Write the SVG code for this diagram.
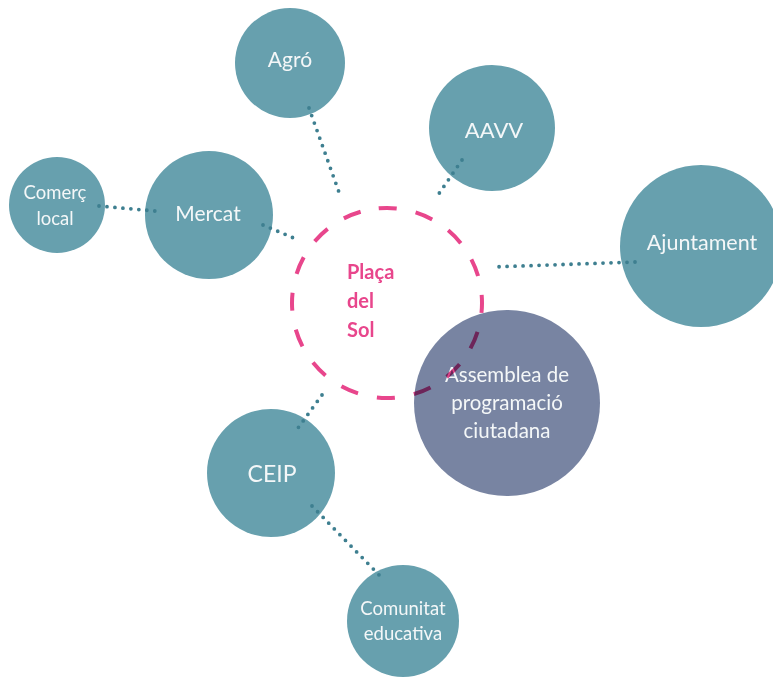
<svg xmlns="http://www.w3.org/2000/svg" width="773" height="678" viewBox="0 0 773 678">
<style>
.n{fill:#67a0ae}
.a{fill:#7884a2}
.t{fill:#f4f7f8;font-family:Lato,"Open Sans",sans-serif;text-anchor:middle}
.c{fill:none;stroke:#3e7f90;stroke-width:3.8;stroke-linecap:round;stroke-dasharray:0 8}
.p{fill:none;stroke:#e8468c;stroke-width:4;stroke-dasharray:18 19.3;mix-blend-mode:multiply}
.pt{fill:#e8468c;font-family:Lato,"Open Sans",sans-serif;font-weight:bold;font-size:20px}
</style>
<rect width="773" height="678" fill="#fff"/>
<g id="agro"><circle class="n" cx="290" cy="63" r="55"/><text class="t" x="290" y="67" font-size="21">Agró</text></g>
<g id="aavv"><circle class="n" cx="492" cy="128" r="63"/><text class="t" x="494" y="138" font-size="22">AAVV</text></g>
<g id="comerc"><circle class="n" cx="57" cy="205" r="48"/><text class="t" x="55" y="199" font-size="18.5">Comerç</text><text class="t" x="55" y="225" font-size="18.5">local</text></g>
<g id="mercat"><circle class="n" cx="209" cy="215" r="64"/><text class="t" x="208" y="221" font-size="21">Mercat</text></g>
<g id="ajuntament"><circle class="n" cx="701" cy="246" r="81"/><text class="t" x="702" y="250" font-size="21.5">Ajuntament</text></g>
<g id="ceip"><circle class="n" cx="271" cy="473" r="64"/><text class="t" x="272" y="482" font-size="23">CEIP</text></g>
<g id="comunitat"><circle class="n" cx="403" cy="621" r="56"/><text class="t" x="403" y="615" font-size="18.5">Comunitat</text><text class="t" x="403" y="640" font-size="18.5">educativa</text></g>
<g id="connectors">
<line class="c" x1="99" y1="206" x2="155" y2="211"/>
<line class="c" x1="309" y1="108" x2="340" y2="195"/>
<line class="c" x1="263" y1="225" x2="296" y2="239"/>
<line class="c" x1="462" y1="160" x2="438" y2="195"/>
<line class="c" x1="635" y1="262" x2="492" y2="267"/>
<line class="c" x1="322" y1="395" x2="298" y2="428"/>
<line class="c" x1="312" y1="506" x2="383" y2="579"/>
</g>
<g id="assemblea"><circle class="a" cx="507" cy="403" r="93"/><text class="t" x="507" y="382" font-size="20.5">Assemblea de</text><text class="t" x="507" y="410" font-size="20.5">programació</text><text class="t" x="507" y="438" font-size="20.5">ciutadana</text></g>
<g id="placa"><circle class="p" cx="387" cy="303" r="95" transform="rotate(-95 387 303)"/><text class="pt" x="347" y="279">Plaça</text><text class="pt" x="347" y="308">del</text><text class="pt" x="347" y="337">Sol</text></g>
</svg>
